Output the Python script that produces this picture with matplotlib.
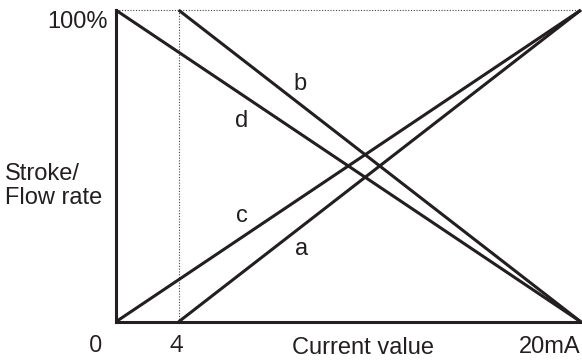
import matplotlib
matplotlib.use("Agg")
import matplotlib.pyplot as plt

# schematic positions along the current axis (0 .. full scale)
x_4ma = 0.135
line_names = ["a", "b", "c", "d"]
x_start = [x_4ma, x_4ma, 0.0, 0.0]
y_start = [0.0, 1.0, 0.0, 1.0]
x_end = [1.0, 1.0, 1.0, 1.0]
y_end = [1.0, 0.0, 1.0, 0.0]
name_pos = [(0.40, 0.235), (0.396, 0.763), (0.271, 0.341), (0.271, 0.645)]

plt.rcParams['font.family'] = ['Liberation Sans', 'DejaVu Sans']

fig = plt.figure(figsize=(5.82, 3.6), dpi=100)
ax = fig.add_axes([0.199, 0.106, 0.799, 0.866])
ax.set_xlim(0, 1)
ax.set_ylim(0, 1)

for s in ["top", "right"]:
    ax.spines[s].set_visible(False)
for s in ["left", "bottom"]:
    ax.spines[s].set_linewidth(2.2)
    ax.spines[s].set_color("#231f20")
ax.set_xticks([])
ax.set_yticks([])

# dotted guides
ax.plot([x_4ma, x_4ma], [0, 1], color="#444444", lw=0.8, ls=(0, (1, 1.5)), clip_on=False)
ax.plot([0, 1], [1, 1], color="#444444", lw=0.8, ls=(0, (1, 1.5)), clip_on=False)

fs = 17
for n, x0, y0, x1, y1, p in zip(line_names, x_start, y_start, x_end, y_end, name_pos):
    ax.plot([x0, x1], [y0, y1], color="#231f20", lw=2.2, clip_on=False,
            solid_capstyle="butt")
    ax.text(p[0], p[1], n, fontsize=fs, ha="center", va="center", color="#231f20")

ax.text(-0.043, -0.078, "0", fontsize=fs, ha="center", va="center",
        family="Open Sans", color="#231f20", clip_on=False)
ax.text(x_4ma - 0.004, -0.078, "4", fontsize=fs, ha="center", va="center",
        family="Open Sans", color="#231f20", clip_on=False)
ax.text(0.532, -0.085, "Current value", fontsize=fs, ha="center", va="center",
        color="#231f20", clip_on=False)
ax.text(0.934, -0.08, "20mA", fontsize=fs, ha="center", va="center",
        color="#231f20", clip_on=False)
ax.text(-0.017, 0.962, "100%", fontsize=fs, ha="right", va="center",
        color="#231f20", clip_on=False)
ax.text(-0.239, 0.436, "Stroke/\nFlow rate", fontsize=fs, ha="left", va="center",
        color="#231f20", clip_on=False, linespacing=1.15)

fig.savefig("out.png", dpi=100)
